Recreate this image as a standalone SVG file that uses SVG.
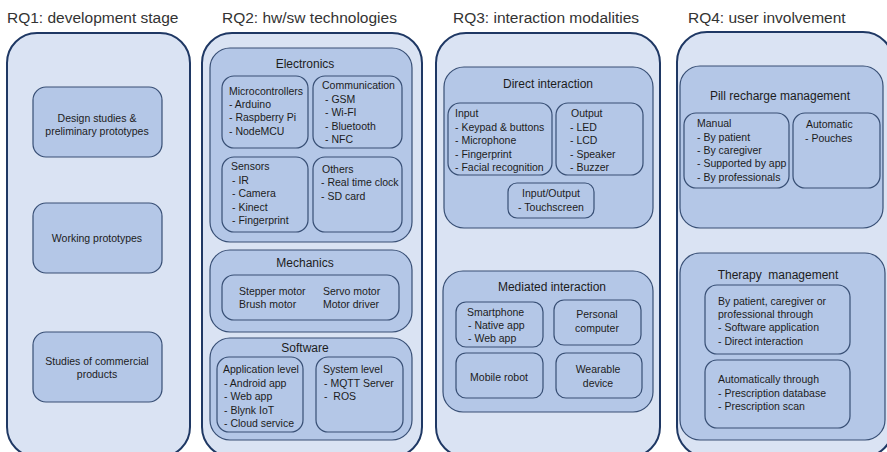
<svg xmlns="http://www.w3.org/2000/svg" width="887" height="452" viewBox="0 0 887 452">
<style>
.bg{fill:#ffffff}
.outer{fill:#dae3f3;stroke:#1f3864;stroke-width:2}
.inner{fill:#b4c7e7;stroke:#384f75;stroke-width:1.2}
.sub{fill:#b4c7e7;stroke:#384f75;stroke-width:1.2}
text{font-family:"Liberation Sans",Arial,sans-serif;fill:#1c1c1c}
.title{font-size:15.5px;fill:#333333}
.h{font-size:12px;text-anchor:middle}
.t{font-size:10.5px}
.c{text-anchor:middle}
</style>
<rect class="bg" x="0" y="0" width="887" height="452"/>

<!-- RQ1 -->
<g id="rq1">
  <text class="title" x="7" y="23">RQ1: development stage</text>
  <rect class="outer" x="7" y="33" width="183" height="424" rx="30"/>
  <g id="design">
    <rect class="inner" x="33" y="87" width="129" height="70" rx="13"/>
    <text class="t c" x="97" y="122">Design studies &amp;</text>
    <text class="t c" x="97" y="135">preliminary prototypes</text>
  </g>
  <g id="working">
    <rect class="inner" x="33" y="203" width="129" height="70" rx="13"/>
    <text class="t c" x="97" y="242">Working prototypes</text>
  </g>
  <g id="commercial">
    <rect class="inner" x="33" y="332" width="129" height="70" rx="13"/>
    <text class="t c" x="97" y="365">Studies of commercial</text>
    <text class="t c" x="97" y="378">products</text>
  </g>
</g>

<!-- RQ2 -->
<g id="rq2">
  <text class="title" x="222" y="23">RQ2: hw/sw technologies</text>
  <rect class="outer" x="202" y="33" width="220" height="424" rx="30"/>
  <g id="electronics">
    <rect class="inner" x="210" y="48" width="202" height="194" rx="20"/>
    <text class="h" x="305" y="68">Electronics</text>
    <g id="microcontrollers">
      <rect class="sub" x="222" y="76" width="86" height="72" rx="12"/>
      <text class="t" x="229" y="95">Microcontrollers</text>
      <text class="t" x="229" y="108">- Arduino</text>
      <text class="t" x="229" y="121">- Raspberry Pi</text>
      <text class="t" x="229" y="135">- NodeMCU</text>
    </g>
    <g id="communication">
      <rect class="sub" x="313" y="76" width="89" height="72" rx="12"/>
      <text class="t" x="322" y="89">Communication</text>
      <text class="t" x="325" y="103">- GSM</text>
      <text class="t" x="325" y="116">- Wi-FI</text>
      <text class="t" x="325" y="130">- Bluetooth</text>
      <text class="t" x="325" y="143">- NFC</text>
    </g>
    <g id="sensors">
      <rect class="sub" x="222" y="157" width="86" height="75" rx="12"/>
      <text class="t" x="231" y="170">Sensors</text>
      <text class="t" x="232" y="184">- IR</text>
      <text class="t" x="232" y="197">- Camera</text>
      <text class="t" x="232" y="211">- Kinect</text>
      <text class="t" x="232" y="224">- Fingerprint</text>
    </g>
    <g id="others">
      <rect class="sub" x="313" y="157" width="89" height="75" rx="12"/>
      <text class="t" x="322" y="173">Others</text>
      <text class="t" x="321" y="186">- Real time clock</text>
      <text class="t" x="321" y="200">- SD card</text>
    </g>
  </g>
  <g id="mechanics">
    <rect class="inner" x="210" y="250" width="202" height="82" rx="20"/>
    <text class="h" x="305" y="267">Mechanics</text>
    <rect class="sub" x="222" y="275" width="177" height="45" rx="12"/>
    <text class="t" x="239" y="295">Stepper motor</text>
    <text class="t" x="239" y="308">Brush motor</text>
    <text class="t" x="323" y="295">Servo motor</text>
    <text class="t" x="323" y="308">Motor driver</text>
  </g>
  <g id="software">
    <rect class="inner" x="210" y="338" width="202" height="102" rx="20"/>
    <text class="h" x="305" y="352">Software</text>
    <g id="application">
      <rect class="sub" x="217" y="357" width="86" height="75" rx="12"/>
      <text class="t" x="223" y="373">Application level</text>
      <text class="t" x="224" y="387">- Android app</text>
      <text class="t" x="224" y="400">- Web app</text>
      <text class="t" x="224" y="414">- Blynk IoT</text>
      <text class="t" x="224" y="427">- Cloud service</text>
    </g>
    <g id="system">
      <rect class="sub" x="316" y="357" width="87" height="75" rx="12"/>
      <text class="t" x="323" y="373">System level</text>
      <text class="t" x="324" y="387">- MQTT Server</text>
      <text class="t" x="324" y="400">-&#160; ROS</text>
    </g>
  </g>
</g>

<!-- RQ3 -->
<g id="rq3">
  <text class="title" x="453" y="23">RQ3: interaction modalities</text>
  <rect class="outer" x="436" y="33" width="224" height="424" rx="30"/>
  <g id="direct">
    <rect class="inner" x="444" y="67" width="209" height="161" rx="20"/>
    <text class="h" x="548" y="88">Direct interaction</text>
    <g id="input">
      <rect class="sub" x="448" y="103" width="104" height="72" rx="12"/>
      <text class="t" x="455" y="117">Input</text>
      <text class="t" x="455" y="131">- Keypad &amp; buttons</text>
      <text class="t" x="455" y="144">- Microphone</text>
      <text class="t" x="455" y="158">- Fingerprint</text>
      <text class="t" x="455" y="171">- Facial recognition</text>
    </g>
    <g id="output">
      <rect class="sub" x="556" y="103" width="87" height="72" rx="12"/>
      <text class="t" x="571" y="117">Output</text>
      <text class="t" x="570" y="131">- LED</text>
      <text class="t" x="570" y="144">- LCD</text>
      <text class="t" x="570" y="158">- Speaker</text>
      <text class="t" x="570" y="171">- Buzzer</text>
    </g>
    <g id="inout">
      <rect class="sub" x="508" y="183" width="86" height="35" rx="9"/>
      <text class="t c" x="551" y="197">Input/Output</text>
      <text class="t c" x="551" y="211">- Touchscreen</text>
    </g>
  </g>
  <g id="mediated">
    <rect class="inner" x="443" y="271" width="210" height="141" rx="20"/>
    <text class="h" x="552" y="291">Mediated interaction</text>
    <g id="smartphone">
      <rect class="sub" x="456" y="302" width="87" height="45" rx="10"/>
      <text class="t" x="467" y="316">Smartphone</text>
      <text class="t" x="468" y="329">- Native app</text>
      <text class="t" x="468" y="342">- Web app</text>
    </g>
    <g id="pc">
      <rect class="sub" x="554" y="300" width="87" height="45" rx="10"/>
      <text class="t c" x="597" y="318">Personal</text>
      <text class="t c" x="597" y="332">computer</text>
    </g>
    <g id="robot">
      <rect class="sub" x="456" y="353" width="87" height="45" rx="10"/>
      <text class="t c" x="499" y="381">Mobile robot</text>
    </g>
    <g id="wearable">
      <rect class="sub" x="556" y="353" width="86" height="45" rx="10"/>
      <text class="t c" x="598" y="373">Wearable</text>
      <text class="t c" x="598" y="387">device</text>
    </g>
  </g>
</g>

<!-- RQ4 -->
<g id="rq4">
  <text class="title" x="688" y="23">RQ4: user involvement</text>
  <rect class="outer" x="677" y="32" width="216" height="425" rx="30"/>
  <g id="pill">
    <rect class="inner" x="680" y="66" width="203" height="162" rx="20"/>
    <text class="h" x="780" y="100">Pill recharge management</text>
    <g id="manual">
      <rect class="sub" x="684" y="113" width="105" height="75" rx="12"/>
      <text class="t" x="697" y="127">Manual</text>
      <text class="t" x="697" y="141">- By patient</text>
      <text class="t" x="697" y="154">- By caregiver</text>
      <text class="t" x="697" y="167">- Supported by app</text>
      <text class="t" x="697" y="181">- By professionals</text>
    </g>
    <g id="automatic">
      <rect class="sub" x="793" y="113" width="87" height="75" rx="12"/>
      <text class="t" x="806" y="128">Automatic</text>
      <text class="t" x="805" y="142">- Pouches</text>
    </g>
  </g>
  <g id="therapy">
    <rect class="inner" x="680" y="253" width="205" height="187" rx="20"/>
    <text class="h" x="778" y="279">Therapy&#160; management</text>
    <g id="byuser">
      <rect class="sub" x="705" y="285" width="145" height="69" rx="12"/>
      <text class="t" x="718" y="305">By patient, caregiver or</text>
      <text class="t" x="718" y="318">professional through</text>
      <text class="t" x="718" y="331">- Software application</text>
      <text class="t" x="718" y="345">- Direct interaction</text>
    </g>
    <g id="auto">
      <rect class="sub" x="705" y="360" width="145" height="68" rx="12"/>
      <text class="t" x="718" y="383">Automatically through</text>
      <text class="t" x="718" y="397">- Prescription database</text>
      <text class="t" x="718" y="410">- Prescription scan</text>
    </g>
  </g>
</g>
<g id="connectors"/>
</svg>
